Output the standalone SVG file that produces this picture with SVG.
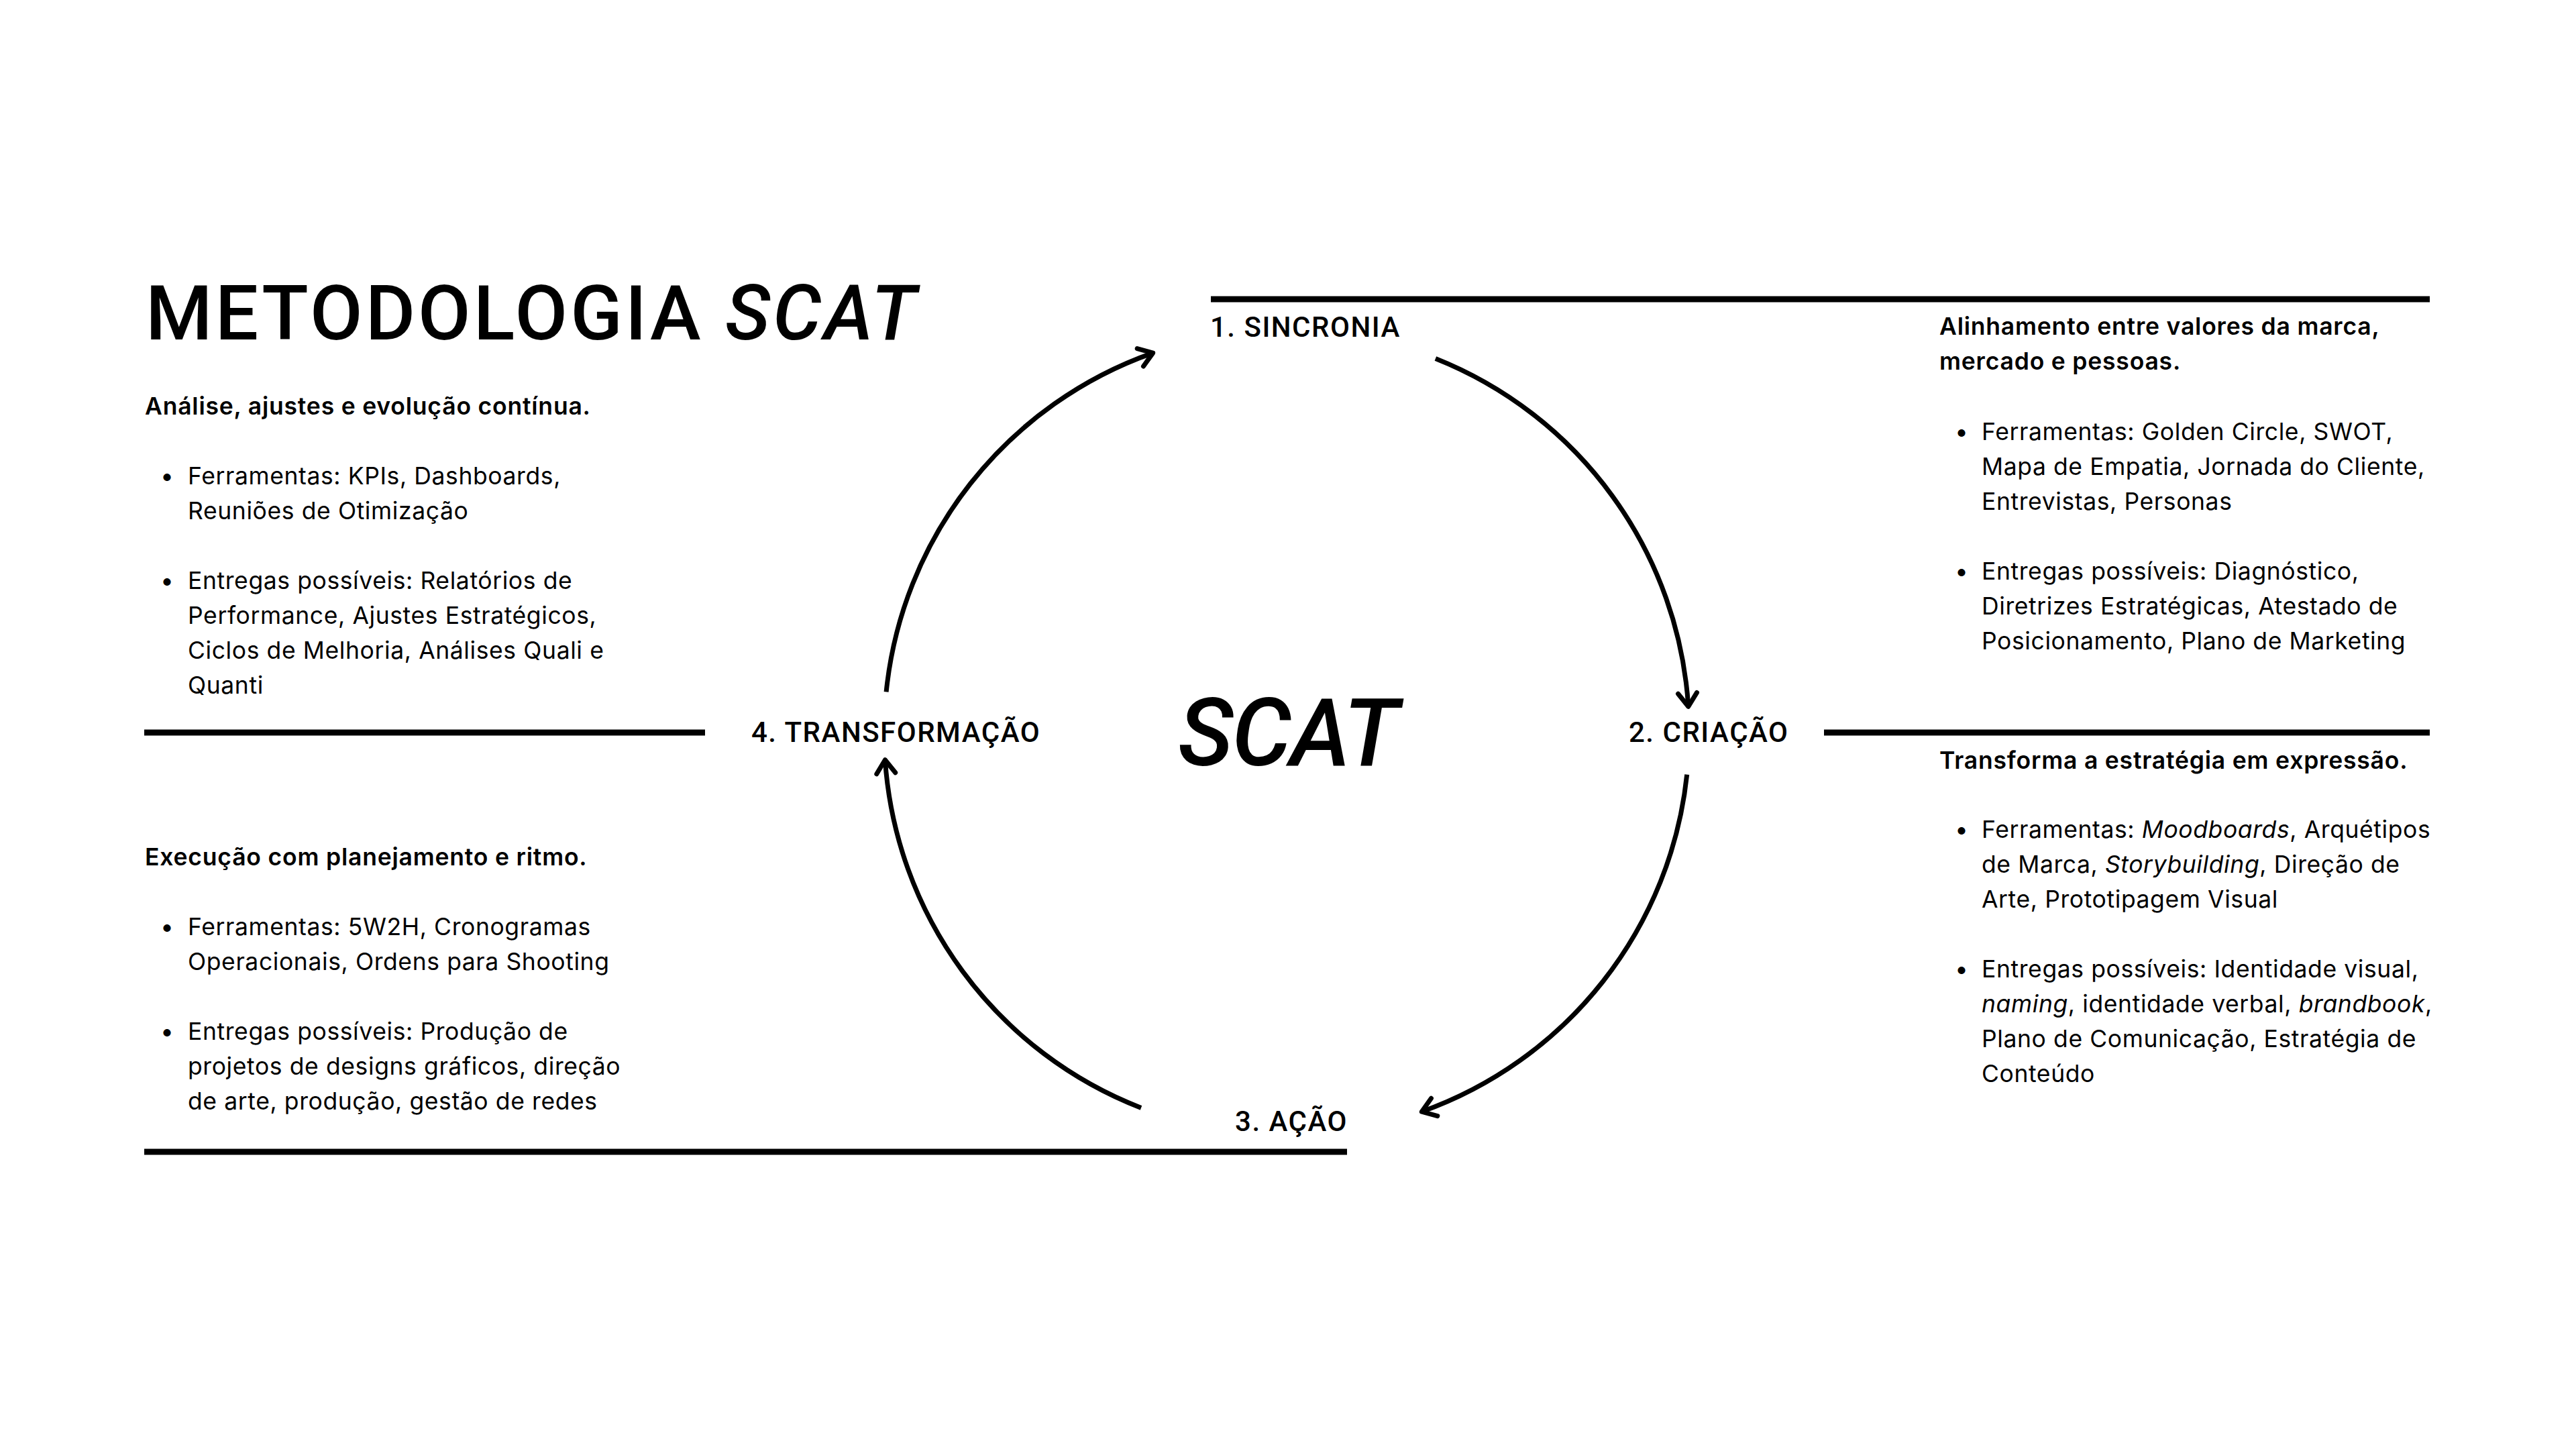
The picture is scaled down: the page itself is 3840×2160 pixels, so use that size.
<svg xmlns="http://www.w3.org/2000/svg" width="3840" height="2160" viewBox="0 0 3840 2160">
<defs>
<style>
.bg{fill:#fff}
.rule{stroke:#000;stroke-width:9;fill:none}
.arc{stroke:#000;stroke-width:7;fill:none}
.label{font-family:Roboto,"Liberation Sans",sans-serif;font-weight:500;font-size:42px;letter-spacing:1.5px;fill:#000}
.title{font-family:Roboto,"Liberation Sans",sans-serif;font-weight:500;font-size:114px;letter-spacing:4px;fill:#000}
.center{font-family:Roboto,"Liberation Sans",sans-serif;font-weight:500;font-style:italic;font-size:140px;letter-spacing:-2px;fill:#000}
.body{font-family:Inter,"Liberation Sans",sans-serif;font-size:35.5px;letter-spacing:0.6px;fill:#000}
.head{font-family:Inter,"Liberation Sans",sans-serif;font-size:35.5px;letter-spacing:0.8px;font-weight:600;fill:#000}
.it{font-style:italic}
</style>
<marker id="chev" markerUnits="userSpaceOnUse" viewBox="-40 -30 60 60" refX="0" refY="0" markerWidth="60" markerHeight="60" orient="auto" overflow="visible">
<path d="M -20 -14 L 0 0 L -20 14" fill="none" stroke="#000" stroke-width="7" stroke-linecap="round" stroke-linejoin="round"/>
</marker>
</defs>
<rect class="bg" x="0" y="0" width="3840" height="2160"/>

<g id="rules">
<line class="rule" x1="1805" y1="446" x2="3622" y2="446"/>
<line class="rule" x1="215" y1="1092" x2="1051" y2="1092"/>
<line class="rule" x1="2719" y1="1092" x2="3622" y2="1092"/>
<line class="rule" x1="215" y1="1717" x2="2008" y2="1717"/>
</g>

<g id="connectors">
<path class="arc" d="M 1321.1 1031.4 A 600 600 0 0 1 1718.7 526.1" marker-end="url(#chev)"/>
<path class="arc" d="M 2139.9 534.5 A 600 600 0 0 1 2516.8 1053.3" marker-end="url(#chev)"/>
<path class="arc" d="M 2514.7 1154.7 A 600 600 0 0 1 2119.3 1657.2" marker-end="url(#chev)"/>
<path class="arc" d="M 1701.0 1651.4 A 600 600 0 0 1 1319.4 1132.8" marker-end="url(#chev)"/>
</g>

<g id="title">
<text class="title" x="217" y="506">METODOLOGIA <tspan class="it">SCAT</tspan></text>
</g>

<g id="center">
<text class="center" x="1756" y="1141">SCAT</text>
</g>

<g id="stage-1">
<text class="label" x="1804" y="502">1. SINCRONIA</text>
</g>
<g id="stage-2">
<text class="label" x="2428" y="1106">2. CRIAÇÃO</text>
</g>
<g id="stage-3">
<text class="label" x="2009" y="1686" text-anchor="end">3. AÇÃO</text>
</g>
<g id="stage-4">
<text class="label" x="1120" y="1106">4. TRANSFORMAÇÃO</text>
</g>

<g id="block-1">
<text class="head" x="2891" y="499">Alinhamento entre valores da marca,</text>
<text class="head" x="2891" y="551">mercado e pessoas.</text>
<text class="body" x="2914" y="656">•</text>
<text class="body" x="2954" y="656">Ferramentas: Golden Circle, SWOT,</text>
<text class="body" x="2954" y="708">Mapa de Empatia, Jornada do Cliente,</text>
<text class="body" x="2954" y="760">Entrevistas, Personas</text>
<text class="body" x="2914" y="864">•</text>
<text class="body" x="2954" y="864">Entregas possíveis: Diagnóstico,</text>
<text class="body" x="2954" y="916">Diretrizes Estratégicas, Atestado de</text>
<text class="body" x="2954" y="968">Posicionamento, Plano de Marketing</text>
</g>

<g id="block-2">
<text class="head" x="2891" y="1146">Transforma a estratégia em expressão.</text>
<text class="body" x="2914" y="1249">•</text>
<text class="body" x="2954" y="1249">Ferramentas: <tspan class="it">Moodboards</tspan>, Arquétipos</text>
<text class="body" x="2954" y="1301">de Marca, <tspan class="it">Storybuilding</tspan>, Direção de</text>
<text class="body" x="2954" y="1353">Arte, Prototipagem Visual</text>
<text class="body" x="2914" y="1457">•</text>
<text class="body" x="2954" y="1457">Entregas possíveis: Identidade visual,</text>
<text class="body" x="2954" y="1509"><tspan class="it">naming</tspan>, identidade verbal, <tspan class="it">brandbook</tspan>,</text>
<text class="body" x="2954" y="1561">Plano de Comunicação, Estratégia de</text>
<text class="body" x="2954" y="1613">Conteúdo</text>
</g>

<g id="block-3">
<text class="head" x="216" y="1290">Execução com planejamento e ritmo.</text>
<text class="body" x="239" y="1394">•</text>
<text class="body" x="280" y="1394">Ferramentas: 5W2H, Cronogramas</text>
<text class="body" x="280" y="1446">Operacionais, Ordens para Shooting</text>
<text class="body" x="239" y="1550">•</text>
<text class="body" x="280" y="1550">Entregas possíveis: Produção de</text>
<text class="body" x="280" y="1602">projetos de designs gráficos, direção</text>
<text class="body" x="280" y="1654">de arte, produção, gestão de redes</text>
</g>

<g id="block-4">
<text class="head" x="216" y="618">Análise, ajustes e evolução contínua.</text>
<text class="body" x="239" y="722">•</text>
<text class="body" x="280" y="722">Ferramentas: KPIs, Dashboards,</text>
<text class="body" x="280" y="774">Reuniões de Otimização</text>
<text class="body" x="239" y="878">•</text>
<text class="body" x="280" y="878">Entregas possíveis: Relatórios de</text>
<text class="body" x="280" y="930">Performance, Ajustes Estratégicos,</text>
<text class="body" x="280" y="982">Ciclos de Melhoria, Análises Quali e</text>
<text class="body" x="280" y="1034">Quanti</text>
</g>
</svg>
